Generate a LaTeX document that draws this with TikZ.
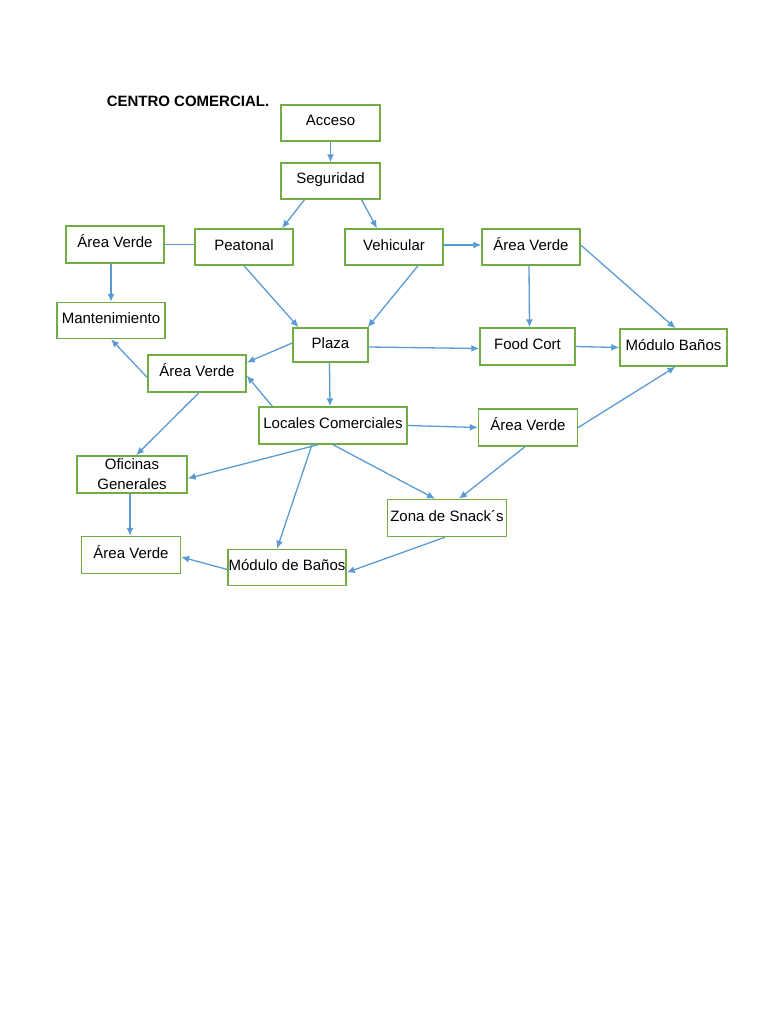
\documentclass[tikz,border=0pt]{standalone}
\usepackage{fontspec}
\setmainfont{Liberation Sans}
\usetikzlibrary{arrows.meta}

\definecolor{verde}{RGB}{112,173,71}
\definecolor{azul}{RGB}{91,155,213}

\begin{document}
\begin{tikzpicture}[x=1pt, y=-1pt,
        caja/.style = {draw = verde,
            line width = 1.4pt,
            inner sep = 0pt,
            minimum width = 98pt,
            minimum height = 36pt,
            text height = 11pt,
            text depth = 5pt,
            font = \fontsize{15}{17}\selectfont,
        },
        flecha/.style = {draw = azul,
            line width = 1.3pt,
            -{Latex[length=8pt,width=7pt]},
        },
        linea/.style = {draw = azul,
            line width = 1.3pt,
        }]

        \useasboundingbox (0,0) rectangle (768,1024);

        % Titulo
        \node[font=\fontsize{15}{17}\selectfont\bfseries] (titulo) at (188,101) {CENTRO COMERCIAL.};

        % Acceso y seguridad
        \node[caja,minimum width=99pt] (acceso) at (330.5,123) {Acceso};
        \node[caja,minimum width=99pt] (seguridad) at (330.5,181) {Seguridad};

        % Primera fila
        \node[caja,minimum height=37pt] (verdeA) at (115,244.5) {Área Verde};
        \node[caja] (peatonal) at (244,247) {Peatonal};
        \node[caja] (vehicular) at (394,247) {Vehicular};
        \node[caja] (verdeB) at (531,247) {Área Verde};

        % Segunda fila
        \node[caja,minimum width=108pt] (mantenimiento) at (111,320.5) {Mantenimiento};
        \node[caja,minimum width=75pt,minimum height=34pt] (plaza) at (330.5,345) {Plaza};
        \node[caja,minimum width=95pt,minimum height=37pt] (foodcort) at (527.5,346.5) {Food Cort};
        \node[caja,minimum width=107pt,minimum height=37pt] (banos) at (673.5,347.5) {Módulo Baños};
        \node[caja,minimum height=37pt] (verdeC) at (197,373.5) {Área Verde};

        % Tercera fila
        \node[caja,minimum width=148pt,minimum height=37pt] (locales) at (333,425.5) {Locales Comerciales};
        \node[caja,minimum width=99pt,minimum height=37pt] (verdeD) at (528,427.5) {Área Verde};
        \node[caja,minimum width=110pt,minimum height=37pt,text height=,text depth=,align=center,
            font=\fontsize{15}{20}\selectfont] (oficinas) at (132,474.5) {Oficinas\\Generales};

        % Cuarta fila
        \node[caja,minimum width=119pt,minimum height=37pt] (snacks) at (447,518) {Zona de Snack´s};
        \node[caja,minimum width=99pt,minimum height=37pt] (verdeE) at (131,555) {Área Verde};
        \node[caja,minimum width=118pt] (modulo) at (287,567.5) {Módulo de Baños};

        % Conexiones
        \draw[flecha] (acceso.south) -- (seguridad.north);
        \draw[flecha] ([xshift=-26pt]seguridad.south) -- ([xshift=38pt]peatonal.north);
        \draw[flecha] ([xshift=31pt]seguridad.south) -- ([xshift=-17pt]vehicular.north);
        \draw[linea] (verdeA.east) -- (verdeA.east -| peatonal.west);
        \draw[flecha] (verdeA.south -| mantenimiento.north) -- (mantenimiento.north);
        \draw[flecha] (peatonal.south) -- ([xshift=-32pt]plaza.north);
        \draw[flecha] ([xshift=24pt]vehicular.south) -- ([xshift=-1pt]plaza.north east);
        \draw[flecha] ([yshift=2pt]vehicular.east) -- ([yshift=2pt]verdeB.west);
        \draw[flecha] ([xshift=-2pt]verdeB.south) -- ([xshift=2pt]foodcort.north);
        \draw[flecha] ([yshift=2pt]verdeB.east) -- ([xshift=2pt]banos.north);
        \draw[flecha] ([yshift=-2pt]plaza.east) -- ([yshift=-2pt]foodcort.west);
        \draw[flecha] (foodcort.east) -- (banos.west);
        \draw[flecha] ([yshift=2pt]plaza.west) -- ([yshift=11pt]verdeC.east);
        \draw[flecha] ([xshift=-1pt]plaza.south) -- ([xshift=-3pt]locales.north);
        \draw[flecha] ([xshift=14pt]locales.north west) -- ([yshift=-2pt]verdeC.east);
        \draw[flecha] ([yshift=-4pt]verdeC.west) -- (mantenimiento.south);
        \draw[flecha] ([xshift=2pt]verdeC.south) -- ([xshift=4pt]oficinas.north);
        \draw[flecha] (locales.east) -- (verdeD.west);
        \draw[flecha] (verdeD.east) -- ([xshift=2pt]banos.south);
        \draw[flecha] ([xshift=-3pt]verdeD.south) -- ([xshift=12pt]snacks.north);
        \draw[flecha] (locales.south) -- ([xshift=-12pt]snacks.north);
        \draw[flecha] ([xshift=-15pt]locales.south) -- ([yshift=-4pt]oficinas.east);
        \draw[flecha] ([xshift=-21pt]locales.south) -- ([xshift=-10pt]modulo.north);
        \draw[flecha] ([xshift=-2pt]snacks.south) -- ([yshift=-5pt]modulo.east);
        \draw[flecha] ([xshift=-2pt]oficinas.south) -- ([xshift=-1pt]verdeE.north);
        \draw[flecha] ([yshift=-2pt]modulo.west) -- ([yshift=-2pt]verdeE.east);

    \end{tikzpicture}
\end{document}
